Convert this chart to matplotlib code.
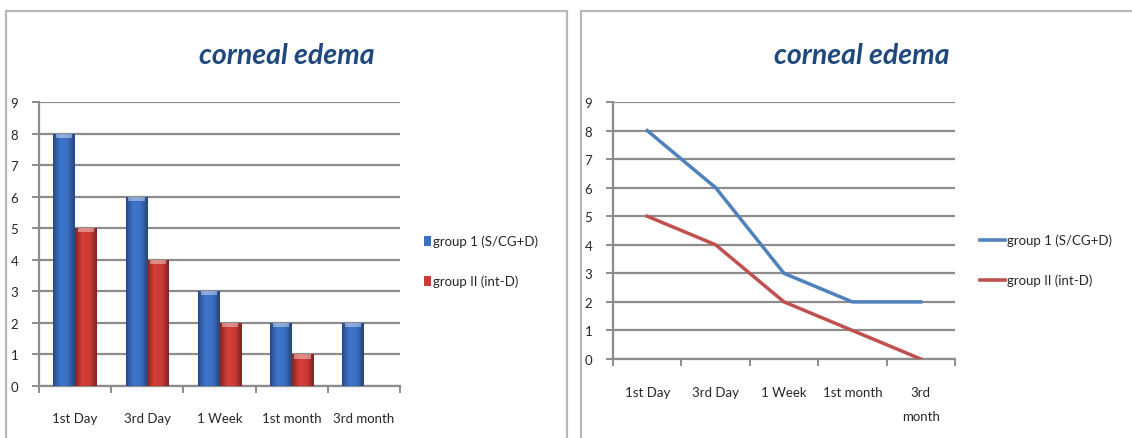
import numpy as np
import matplotlib
matplotlib.use("Agg")
import matplotlib.pyplot as plt
from matplotlib.colors import LinearSegmentedColormap
from matplotlib.patches import Rectangle

categories = ["1st Day", "3rd Day", "1 Week", "1st month", "3rd month"]
line_labels = ["1st Day", "3rd Day", "1 Week", "1st month", "3rd\nmonth"]
group1 = [8, 6, 3, 2, 2]
group2 = [5, 4, 2, 1, 0]
series_names = ["group 1 (S/CG+D)", "group II (int-D)"]
title = "corneal edema"
yticks = list(range(0, 10))

W, H = 1132, 439
fig = plt.figure(figsize=(W / 100, H / 100), dpi=100)
fig.patch.set_facecolor("white")

font_fam = ["Lato", "DejaVu Sans"]
title_color = "#1F497D"
grid_color = "#8c8c8c"
blue = "#4F81BD"
red = "#C0504D"
bar_blue = "#3a70c4"
bar_red = "#cc3b36"
text_color = "#262626"


def px_axes(x0, y0, x1, y1):
    return fig.add_axes([x0 / W, 1 - y1 / H, (x1 - x0) / W, (y1 - y0) / H])


# panel frames
fig.add_artist(Rectangle((6 / W, -0.05), (567 - 6) / W, 1.05 - 12 / H,
                         transform=fig.transFigure, fill=False,
                         edgecolor="#b8b8b8", lw=1.6))
fig.add_artist(Rectangle((581 / W, -0.05), 0.5, 1.05 - 12 / H,
                         transform=fig.transFigure, fill=False,
                         edgecolor="#b8b8b8", lw=1.6))


def style_axes(ax):
    ax.set_ylim(0, 9)
    ax.set_yticks(yticks)
    ax.set_xlim(-0.5, 4.5)
    ax.grid(axis="y", color=grid_color, lw=1.6, zorder=0)
    ax.set_axisbelow(True)
    for s in ["top", "right"]:
        ax.spines[s].set_visible(False)
    for s in ["left", "bottom"]:
        ax.spines[s].set_color(grid_color)
        ax.spines[s].set_linewidth(1.6)
    ax.set_xticks(np.arange(-0.5, 5.0, 1.0))
    ax.tick_params(axis="x", length=5, color=grid_color,
                   width=1.4, labelbottom=False)
    ax.tick_params(axis="y", length=5, color=grid_color, width=1.4,
                   labelsize=9.5, pad=10)
    for lab in ax.get_yticklabels():
        lab.set_family(font_fam)
        lab.set_color(text_color)


def shade(base, f):
    r, g, b = matplotlib.colors.to_rgb(base)
    return (min(1, r * f), min(1, g * f), min(1, b * f))


def gradient_bar(ax, x, h, w, base):
    if h <= 0:
        return
    cmap = LinearSegmentedColormap.from_list(
        "g", [shade(base, 0.65), shade(base, 1.05), base, shade(base, 0.62)])
    rect = Rectangle((x - w / 2, 0), w, h, facecolor=base, edgecolor="none", zorder=2)
    ax.add_patch(rect)
    grad = np.linspace(0, 1, 64).reshape(1, -1)
    im = ax.imshow(grad, extent=(x - w / 2, x + w / 2, 0, h), cmap=cmap,
                   aspect="auto", zorder=3, interpolation="bicubic")
    im.set_clip_path(rect)
    # lighter cap at the top of the bar
    cap = Rectangle((x - w / 2 * 0.75, h - 0.13), w * 0.75, 0.13,
                    facecolor="white", alpha=0.4, edgecolor="none", zorder=4)
    ax.add_patch(cap)


# left: bar chart
ax1 = px_axes(39, 103, 400, 387)
style_axes(ax1)
bw = 0.30
xs = np.arange(len(categories))
for i in xs:
    gradient_bar(ax1, i - bw / 2, group1[i], bw, bar_blue)
    gradient_bar(ax1, i + bw / 2, group2[i], bw, bar_red)
ax1.set_xlim(-0.5, 4.5)
for i, c in enumerate(categories):
    ax1.text(i, -1.0, c, ha="center", va="center", fontsize=9.5,
             family=font_fam, color=text_color)
fig.text(287 / W, 1 - 56 / H, title, ha="center", va="center", fontsize=20.5,
         style="italic", weight="bold", color=title_color, family=font_fam)

# left legend
for k, (name, col) in enumerate(zip(series_names, [bar_blue, bar_red])):
    yy = 1 - (242 + 40 * k) / H
    fig.add_artist(Rectangle((424 / W, yy - 5 / H), 7 / W, 10 / H,
                             transform=fig.transFigure, facecolor=col,
                             edgecolor="none"))
    fig.text(433 / W, yy, name, ha="left", va="center", fontsize=9.5,
             family=font_fam, color=text_color)

# right: line chart
ax2 = px_axes(613, 103, 955, 360)
style_axes(ax2)
ax2.plot(xs, group1, color=blue, lw=2.5, solid_joinstyle="round", zorder=3)
ax2.plot(xs, group2, color=red, lw=2.5, solid_joinstyle="round", zorder=3)
for i, c in enumerate(line_labels):
    ax2.text(i, -0.95, c, ha="center", va="top", fontsize=9.5,
             family=font_fam, color=text_color, linespacing=2.2)
fig.text(862 / W, 1 - 56 / H, title, ha="center", va="center", fontsize=20.5,
         style="italic", weight="bold", color=title_color, family=font_fam)

# right legend
for k, (name, col) in enumerate(zip(series_names, [blue, red])):
    yy = 1 - (241 + 40 * k) / H
    fig.add_artist(plt.Line2D([980 / W, 1005 / W], [yy, yy], color=col, lw=2.6,
                              transform=fig.transFigure))
    fig.text(1007 / W, yy, name, ha="left", va="center", fontsize=9.5,
             family=font_fam, color=text_color)

fig.savefig("out.png", dpi=100, facecolor="white")
